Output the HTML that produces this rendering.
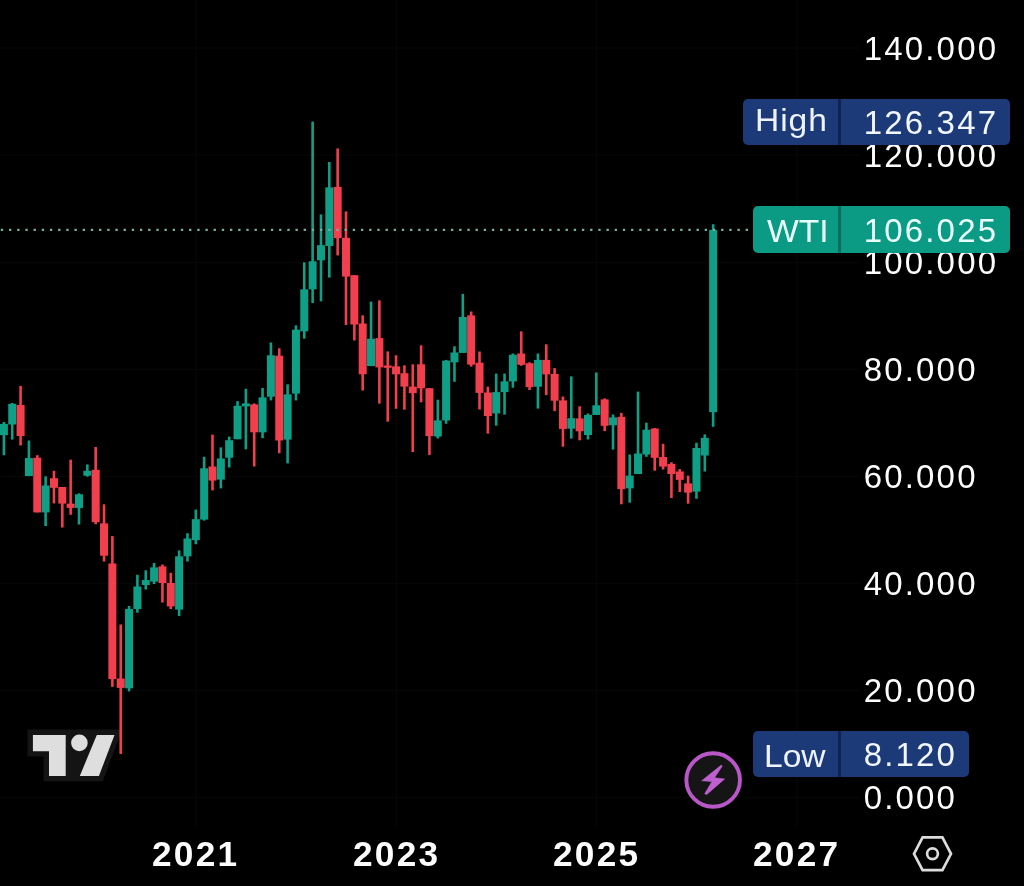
<!DOCTYPE html>
<html lang="en">
<head>
<meta charset="utf-8">
<title>WTI chart</title>
<style>
html,body{margin:0;padding:0;background:#000;}
body{width:1024px;height:886px;position:relative;overflow:hidden;font-family:"Liberation Sans",sans-serif;color:#fff;}
#chart{position:absolute;left:0;top:0;width:1024px;height:886px;display:block;}
.pl{position:absolute;left:863.8px;font-size:33px;line-height:32px;letter-spacing:2.15px;color:#fdfdfd;white-space:nowrap;}
.yl{position:absolute;font-size:34.2px;line-height:32px;font-weight:bold;letter-spacing:2.2px;transform:scaleX(1.03);transform-origin:0 0;color:#fdfdfd;white-space:nowrap;}
.tag{position:absolute;border-radius:5px;height:46px;}
.tag .div{position:absolute;left:0;top:0;bottom:0;width:3px;}
.tl{position:absolute;font-size:32px;line-height:32px;white-space:nowrap;transform:scaleX(1.05);transform-origin:0 0;}
</style>
</head>
<body>
<svg id="chart" width="1024" height="886" viewBox="0 0 1024 886">
<rect width="1024" height="886" fill="#000"/>
<!-- faint grid -->
<g stroke="#060606" stroke-width="1.4">
<line x1="0" x2="860" y1="48" y2="48"/><line x1="0" x2="860" y1="155" y2="155"/><line x1="0" x2="860" y1="262.5" y2="262.5"/><line x1="0" x2="860" y1="369.5" y2="369.5"/><line x1="0" x2="860" y1="476.5" y2="476.5"/><line x1="0" x2="860" y1="583.5" y2="583.5"/><line x1="0" x2="860" y1="690.5" y2="690.5"/><line x1="0" x2="860" y1="797.5" y2="797.5"/>
<line y1="0" y2="826" x1="196" x2="196"/><line y1="0" y2="826" x1="396.5" x2="396.5"/><line y1="0" y2="826" x1="596.5" x2="596.5"/><line y1="0" y2="826" x1="796.7" x2="796.7"/>
</g>
<!-- TradingView logo -->
<g>
<path d="M27.5 729.6H122.3L102.7 781.3H43.6V756.6H27.5Z" fill="#141414"/>
<g fill="#dedede">
<path d="M32.9 735H65.7V775.9H49V751.2H32.9Z"/>
<circle cx="79.4" cy="742.9" r="8.3"/>
<path d="M96.8 735H114.5L98.95 775.9H79.8Z"/>
</g>
</g>
<g shape-rendering="auto">
<rect x="2.60" y="422.0" width="2.6" height="33.2" fill="#0f9f86"/>
<rect x="-0.10" y="423.9" width="8.0" height="11.2" fill="#0f9f86"/>
<rect x="10.94" y="403.0" width="2.6" height="36.6" fill="#0f9f86"/>
<rect x="8.24" y="403.8" width="8.0" height="20.7" fill="#0f9f86"/>
<rect x="19.29" y="385.9" width="2.6" height="59.5" fill="#f23f4e"/>
<rect x="16.59" y="405.0" width="8.0" height="31.0" fill="#f23f4e"/>
<rect x="27.63" y="440.5" width="2.6" height="35.6" fill="#0f9f86"/>
<rect x="24.93" y="458.1" width="8.0" height="18.0" fill="#0f9f86"/>
<rect x="35.98" y="455.2" width="2.6" height="57.2" fill="#f23f4e"/>
<rect x="33.28" y="457.7" width="8.0" height="54.7" fill="#f23f4e"/>
<rect x="44.32" y="476.3" width="2.6" height="49.8" fill="#0f9f86"/>
<rect x="41.62" y="485.5" width="8.0" height="26.9" fill="#0f9f86"/>
<rect x="52.66" y="470.8" width="2.6" height="32.6" fill="#f23f4e"/>
<rect x="49.96" y="478.2" width="8.0" height="9.6" fill="#f23f4e"/>
<rect x="61.01" y="487.0" width="2.6" height="40.5" fill="#f23f4e"/>
<rect x="58.31" y="487.0" width="8.0" height="16.6" fill="#f23f4e"/>
<rect x="69.35" y="459.7" width="2.6" height="55.1" fill="#f23f4e"/>
<rect x="66.65" y="503.6" width="8.0" height="4.3" fill="#f23f4e"/>
<rect x="77.70" y="493.3" width="2.6" height="31.2" fill="#0f9f86"/>
<rect x="75.00" y="494.3" width="8.0" height="13.6" fill="#0f9f86"/>
<rect x="86.04" y="464.4" width="2.6" height="12.3" fill="#0f9f86"/>
<rect x="83.34" y="470.8" width="8.0" height="4.9" fill="#0f9f86"/>
<rect x="94.38" y="447.0" width="2.6" height="77.2" fill="#f23f4e"/>
<rect x="91.68" y="469.8" width="8.0" height="52.4" fill="#f23f4e"/>
<rect x="102.73" y="504.3" width="2.6" height="57.2" fill="#f23f4e"/>
<rect x="100.03" y="523.4" width="8.0" height="32.3" fill="#f23f4e"/>
<rect x="111.07" y="536.1" width="2.6" height="150.8" fill="#f23f4e"/>
<rect x="108.37" y="563.5" width="8.0" height="115.6" fill="#f23f4e"/>
<rect x="119.42" y="624.5" width="2.6" height="129.4" fill="#f23f4e"/>
<rect x="116.72" y="678.5" width="8.0" height="9.4" fill="#f23f4e"/>
<rect x="127.76" y="606.0" width="2.6" height="85.4" fill="#0f9f86"/>
<rect x="125.06" y="608.9" width="8.0" height="79.4" fill="#0f9f86"/>
<rect x="136.10" y="574.8" width="2.6" height="37.9" fill="#0f9f86"/>
<rect x="133.40" y="586.5" width="8.0" height="22.5" fill="#0f9f86"/>
<rect x="144.45" y="570.3" width="2.6" height="19.2" fill="#0f9f86"/>
<rect x="141.75" y="580.1" width="8.0" height="4.9" fill="#0f9f86"/>
<rect x="152.79" y="562.9" width="2.6" height="21.1" fill="#0f9f86"/>
<rect x="150.09" y="567.4" width="8.0" height="14.2" fill="#0f9f86"/>
<rect x="161.14" y="564.5" width="2.6" height="38.0" fill="#f23f4e"/>
<rect x="158.44" y="566.4" width="8.0" height="16.6" fill="#f23f4e"/>
<rect x="169.48" y="572.9" width="2.6" height="36.1" fill="#f23f4e"/>
<rect x="166.78" y="583.0" width="8.0" height="23.4" fill="#f23f4e"/>
<rect x="177.82" y="550.4" width="2.6" height="65.7" fill="#0f9f86"/>
<rect x="175.12" y="556.3" width="8.0" height="53.3" fill="#0f9f86"/>
<rect x="186.17" y="533.2" width="2.6" height="28.3" fill="#0f9f86"/>
<rect x="183.47" y="538.5" width="8.0" height="17.8" fill="#0f9f86"/>
<rect x="194.51" y="509.6" width="2.6" height="34.6" fill="#0f9f86"/>
<rect x="191.81" y="519.2" width="8.0" height="20.9" fill="#0f9f86"/>
<rect x="202.86" y="456.8" width="2.6" height="63.8" fill="#0f9f86"/>
<rect x="200.16" y="468.3" width="8.0" height="51.3" fill="#0f9f86"/>
<rect x="211.20" y="434.7" width="2.6" height="55.7" fill="#f23f4e"/>
<rect x="208.50" y="466.5" width="8.0" height="14.1" fill="#f23f4e"/>
<rect x="219.54" y="447.4" width="2.6" height="41.0" fill="#0f9f86"/>
<rect x="216.84" y="458.5" width="8.0" height="21.1" fill="#0f9f86"/>
<rect x="227.89" y="436.6" width="2.6" height="30.9" fill="#0f9f86"/>
<rect x="225.19" y="440.2" width="8.0" height="17.5" fill="#0f9f86"/>
<rect x="236.23" y="401.1" width="2.6" height="38.1" fill="#0f9f86"/>
<rect x="233.53" y="405.8" width="8.0" height="33.4" fill="#0f9f86"/>
<rect x="244.58" y="388.8" width="2.6" height="60.5" fill="#0f9f86"/>
<rect x="241.88" y="403.4" width="8.0" height="3.0" fill="#0f9f86"/>
<rect x="252.92" y="403.4" width="2.6" height="63.1" fill="#f23f4e"/>
<rect x="250.22" y="404.4" width="8.0" height="27.9" fill="#f23f4e"/>
<rect x="261.26" y="388.0" width="2.6" height="50.2" fill="#0f9f86"/>
<rect x="258.56" y="397.4" width="8.0" height="34.9" fill="#0f9f86"/>
<rect x="269.61" y="342.4" width="2.6" height="58.0" fill="#0f9f86"/>
<rect x="266.91" y="355.3" width="8.0" height="41.4" fill="#0f9f86"/>
<rect x="277.95" y="348.3" width="2.6" height="104.9" fill="#f23f4e"/>
<rect x="275.25" y="355.7" width="8.0" height="84.8" fill="#f23f4e"/>
<rect x="286.30" y="384.3" width="2.6" height="79.1" fill="#0f9f86"/>
<rect x="283.60" y="394.4" width="8.0" height="45.2" fill="#0f9f86"/>
<rect x="294.64" y="325.4" width="2.6" height="75.0" fill="#0f9f86"/>
<rect x="291.94" y="329.7" width="8.0" height="63.9" fill="#0f9f86"/>
<rect x="302.98" y="262.3" width="2.6" height="76.4" fill="#0f9f86"/>
<rect x="300.28" y="289.3" width="8.0" height="42.0" fill="#0f9f86"/>
<rect x="311.33" y="121.6" width="2.6" height="181.4" fill="#0f9f86"/>
<rect x="308.63" y="261.3" width="8.0" height="28.0" fill="#0f9f86"/>
<rect x="319.67" y="214.4" width="2.6" height="87.0" fill="#0f9f86"/>
<rect x="316.97" y="245.2" width="8.0" height="15.1" fill="#0f9f86"/>
<rect x="328.02" y="162.0" width="2.6" height="115.6" fill="#0f9f86"/>
<rect x="325.32" y="187.4" width="8.0" height="58.6" fill="#0f9f86"/>
<rect x="336.36" y="148.4" width="2.6" height="107.0" fill="#f23f4e"/>
<rect x="333.66" y="187.0" width="8.0" height="51.2" fill="#f23f4e"/>
<rect x="344.70" y="211.4" width="2.6" height="113.6" fill="#f23f4e"/>
<rect x="342.00" y="237.8" width="8.0" height="38.8" fill="#f23f4e"/>
<rect x="353.05" y="275.2" width="2.6" height="65.3" fill="#f23f4e"/>
<rect x="350.35" y="275.2" width="8.0" height="49.3" fill="#f23f4e"/>
<rect x="361.39" y="315.3" width="2.6" height="75.2" fill="#f23f4e"/>
<rect x="358.69" y="323.5" width="8.0" height="50.8" fill="#f23f4e"/>
<rect x="369.74" y="301.6" width="2.6" height="64.5" fill="#0f9f86"/>
<rect x="367.04" y="338.7" width="8.0" height="27.4" fill="#0f9f86"/>
<rect x="378.08" y="300.4" width="2.6" height="103.2" fill="#f23f4e"/>
<rect x="375.38" y="338.1" width="8.0" height="29.3" fill="#f23f4e"/>
<rect x="386.42" y="351.4" width="2.6" height="70.3" fill="#f23f4e"/>
<rect x="383.72" y="365.5" width="8.0" height="2.3" fill="#f23f4e"/>
<rect x="394.77" y="355.3" width="2.6" height="53.5" fill="#f23f4e"/>
<rect x="392.07" y="366.4" width="8.0" height="7.9" fill="#f23f4e"/>
<rect x="403.11" y="365.3" width="2.6" height="44.4" fill="#f23f4e"/>
<rect x="400.41" y="373.2" width="8.0" height="13.4" fill="#f23f4e"/>
<rect x="411.46" y="364.3" width="2.6" height="87.8" fill="#f23f4e"/>
<rect x="408.76" y="386.6" width="8.0" height="6.5" fill="#f23f4e"/>
<rect x="419.80" y="345.3" width="2.6" height="57.0" fill="#f23f4e"/>
<rect x="417.10" y="364.3" width="8.0" height="24.0" fill="#f23f4e"/>
<rect x="428.14" y="388.2" width="2.6" height="66.8" fill="#f23f4e"/>
<rect x="425.44" y="388.2" width="8.0" height="47.9" fill="#f23f4e"/>
<rect x="436.49" y="399.7" width="2.6" height="38.7" fill="#0f9f86"/>
<rect x="433.79" y="420.4" width="8.0" height="16.1" fill="#0f9f86"/>
<rect x="444.83" y="359.9" width="2.6" height="63.9" fill="#0f9f86"/>
<rect x="442.13" y="360.7" width="8.0" height="59.8" fill="#0f9f86"/>
<rect x="453.18" y="346.3" width="2.6" height="35.5" fill="#0f9f86"/>
<rect x="450.48" y="352.5" width="8.0" height="9.8" fill="#0f9f86"/>
<rect x="461.52" y="293.9" width="2.6" height="59.0" fill="#0f9f86"/>
<rect x="458.82" y="317.0" width="8.0" height="35.9" fill="#0f9f86"/>
<rect x="469.86" y="311.5" width="2.6" height="55.1" fill="#f23f4e"/>
<rect x="467.16" y="315.4" width="8.0" height="49.2" fill="#f23f4e"/>
<rect x="478.21" y="351.5" width="2.6" height="58.0" fill="#f23f4e"/>
<rect x="475.51" y="362.7" width="8.0" height="30.2" fill="#f23f4e"/>
<rect x="486.55" y="386.7" width="2.6" height="46.9" fill="#f23f4e"/>
<rect x="483.85" y="392.5" width="8.0" height="23.5" fill="#f23f4e"/>
<rect x="494.90" y="373.6" width="2.6" height="52.1" fill="#0f9f86"/>
<rect x="492.20" y="392.1" width="8.0" height="21.3" fill="#0f9f86"/>
<rect x="503.24" y="373.6" width="2.6" height="41.0" fill="#0f9f86"/>
<rect x="500.54" y="381.4" width="8.0" height="10.7" fill="#0f9f86"/>
<rect x="511.58" y="353.5" width="2.6" height="34.2" fill="#0f9f86"/>
<rect x="508.88" y="354.8" width="8.0" height="26.6" fill="#0f9f86"/>
<rect x="519.93" y="331.4" width="2.6" height="34.4" fill="#f23f4e"/>
<rect x="517.23" y="353.5" width="8.0" height="11.3" fill="#f23f4e"/>
<rect x="528.27" y="362.3" width="2.6" height="27.7" fill="#f23f4e"/>
<rect x="525.57" y="363.2" width="8.0" height="23.9" fill="#f23f4e"/>
<rect x="536.62" y="353.5" width="2.6" height="55.1" fill="#0f9f86"/>
<rect x="533.92" y="359.9" width="8.0" height="26.8" fill="#0f9f86"/>
<rect x="544.96" y="344.3" width="2.6" height="50.8" fill="#f23f4e"/>
<rect x="542.26" y="359.9" width="8.0" height="14.5" fill="#f23f4e"/>
<rect x="553.30" y="368.1" width="2.6" height="43.0" fill="#f23f4e"/>
<rect x="550.60" y="374.0" width="8.0" height="26.7" fill="#f23f4e"/>
<rect x="561.65" y="396.5" width="2.6" height="50.2" fill="#f23f4e"/>
<rect x="558.95" y="400.4" width="8.0" height="28.5" fill="#f23f4e"/>
<rect x="569.99" y="376.4" width="2.6" height="62.2" fill="#0f9f86"/>
<rect x="567.29" y="418.2" width="8.0" height="10.5" fill="#0f9f86"/>
<rect x="578.34" y="406.3" width="2.6" height="34.0" fill="#f23f4e"/>
<rect x="575.64" y="418.4" width="8.0" height="12.9" fill="#f23f4e"/>
<rect x="586.68" y="413.5" width="2.6" height="26.0" fill="#0f9f86"/>
<rect x="583.98" y="415.0" width="8.0" height="20.0" fill="#0f9f86"/>
<rect x="595.02" y="372.5" width="2.6" height="42.5" fill="#0f9f86"/>
<rect x="592.32" y="405.3" width="8.0" height="9.7" fill="#0f9f86"/>
<rect x="603.37" y="398.4" width="2.6" height="32.7" fill="#f23f4e"/>
<rect x="600.67" y="399.4" width="8.0" height="26.4" fill="#f23f4e"/>
<rect x="611.71" y="414.5" width="2.6" height="35.1" fill="#0f9f86"/>
<rect x="609.01" y="417.4" width="8.0" height="7.8" fill="#0f9f86"/>
<rect x="620.06" y="412.9" width="2.6" height="91.4" fill="#f23f4e"/>
<rect x="617.36" y="416.8" width="8.0" height="72.3" fill="#f23f4e"/>
<rect x="628.40" y="454.5" width="2.6" height="48.2" fill="#0f9f86"/>
<rect x="625.70" y="475.6" width="8.0" height="12.7" fill="#0f9f86"/>
<rect x="636.74" y="391.6" width="2.6" height="82.4" fill="#0f9f86"/>
<rect x="634.04" y="453.5" width="8.0" height="20.5" fill="#0f9f86"/>
<rect x="645.09" y="422.7" width="2.6" height="34.1" fill="#0f9f86"/>
<rect x="642.39" y="429.7" width="8.0" height="24.8" fill="#0f9f86"/>
<rect x="653.43" y="428.1" width="2.6" height="42.6" fill="#f23f4e"/>
<rect x="650.73" y="428.5" width="8.0" height="29.3" fill="#f23f4e"/>
<rect x="661.78" y="443.8" width="2.6" height="25.7" fill="#f23f4e"/>
<rect x="659.08" y="457.0" width="8.0" height="9.6" fill="#f23f4e"/>
<rect x="670.12" y="462.3" width="2.6" height="35.7" fill="#f23f4e"/>
<rect x="667.42" y="463.9" width="8.0" height="10.1" fill="#f23f4e"/>
<rect x="678.46" y="469.1" width="2.6" height="22.9" fill="#f23f4e"/>
<rect x="675.76" y="471.5" width="8.0" height="8.4" fill="#f23f4e"/>
<rect x="686.81" y="475.6" width="2.6" height="28.1" fill="#f23f4e"/>
<rect x="684.11" y="483.4" width="8.0" height="9.2" fill="#f23f4e"/>
<rect x="695.15" y="442.8" width="2.6" height="56.0" fill="#0f9f86"/>
<rect x="692.45" y="448.0" width="8.0" height="43.6" fill="#0f9f86"/>
<rect x="703.50" y="434.4" width="2.6" height="37.1" fill="#0f9f86"/>
<rect x="700.80" y="437.9" width="8.0" height="17.6" fill="#0f9f86"/>
<rect x="711.84" y="224.2" width="2.6" height="202.6" fill="#0f9f86"/>
<rect x="709.14" y="229.9" width="8.0" height="182.2" fill="#0f9f86"/>
</g>
<!-- price dotted line -->
<line x1="0.8" x2="752" y1="229.9" y2="229.9" stroke="#78ae9e" stroke-width="2.3" stroke-dasharray="2.35 5.835"/>
<!-- lightning -->
<circle cx="713.15" cy="780.0" r="26.8" fill="#151515" stroke="#b957c9" stroke-width="3.9"/>
<path d="M721.3 765.1L701.7 780.7L712 781.5L704.7 793.8L706.8 794.4L724.6 779L714.5 777.8L722.2 766.2Z" fill="#c060d0" stroke="#c060d0" stroke-width="0.6" stroke-linejoin="round"/>
<!-- settings hex -->
<g fill="none" stroke="#dcdcdc" stroke-width="2.7" stroke-linejoin="miter">
<path d="M914 853.8L922.6 837.4H942.4L951 853.8L942.4 870.2H922.6Z"/>
<circle cx="932.5" cy="853.8" r="5.4"/>
</g>
</svg>

<div class="pl" style="top:33px">140.000</div>
<div class="pl" style="top:140px">120.000</div>
<div class="pl" style="top:247px">100.000</div>
<div class="pl" style="top:354px">80.000</div>
<div class="pl" style="top:461px">60.000</div>
<div class="pl" style="top:568px">40.000</div>
<div class="pl" style="top:675px">20.000</div>
<div class="pl" style="top:782px">0.000</div>

<div class="tag" style="left:743px;top:98.5px;width:267px;background:#1c3a78"><div class="div" style="left:95px;background:#10234d"></div></div>
<div class="tl" style="left:754.6px;top:104.0px;color:#eef3ff;letter-spacing:0.87px">High</div>
<div class="pl" style="top:106.6px;color:#f2f6ff">126.347</div>

<div class="tag" style="left:753.3px;top:206.4px;width:256.7px;height:46.6px;background:#0b9a83"><div class="div" style="left:84.7px;background:#0a6d5d"></div></div>
<div class="tl" style="left:767.2px;top:214.8px;color:#eafffa">WTI</div>
<div class="pl" style="top:214.5px;color:#eafffa">106.025</div>

<div class="tag" style="left:753.3px;top:731.2px;width:216.2px;background:#1c3a78"><div class="div" style="left:84.7px;background:#10234d"></div></div>
<div class="tl" style="left:764.0px;top:739.5px;color:#eef3ff">Low</div>
<div class="pl" style="top:739px;color:#f2f6ff">8.120</div>

<div class="yl" style="left:152.4px;top:838.3px">2021</div>
<div class="yl" style="left:352.9px;top:838.3px">2023</div>
<div class="yl" style="left:552.7px;top:838.3px">2025</div>
<div class="yl" style="left:753px;top:838.3px">2027</div>
</body>
</html>
